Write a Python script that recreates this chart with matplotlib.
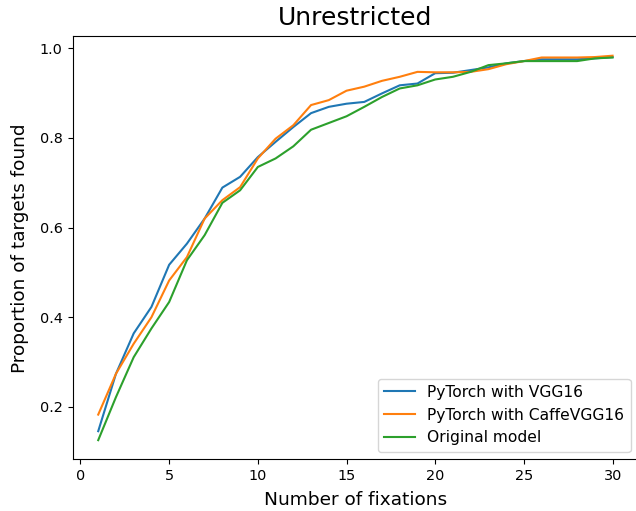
import matplotlib
matplotlib.use('Agg')
import matplotlib.pyplot as plt

fixations = list(range(1, 31))
vgg16 = [0.146, 0.274, 0.364, 0.423, 0.517, 0.564, 0.620, 0.689, 0.713, 0.757,
         0.791, 0.824, 0.855, 0.869, 0.876, 0.880, 0.899, 0.917, 0.921, 0.944,
         0.945, 0.951, 0.957, 0.966, 0.971, 0.975, 0.975, 0.975, 0.977, 0.980]
caffe_vgg16 = [0.183, 0.274, 0.341, 0.400, 0.482, 0.534, 0.620, 0.661, 0.690, 0.754,
               0.798, 0.828, 0.873, 0.884, 0.905, 0.914, 0.927, 0.936, 0.947, 0.946,
               0.946, 0.947, 0.953, 0.964, 0.971, 0.979, 0.979, 0.979, 0.980, 0.983]
original = [0.126, 0.222, 0.311, 0.375, 0.434, 0.527, 0.583, 0.655, 0.683, 0.735,
            0.754, 0.781, 0.818, 0.833, 0.848, 0.869, 0.891, 0.910, 0.917, 0.930,
            0.936, 0.947, 0.962, 0.966, 0.971, 0.971, 0.971, 0.971, 0.977, 0.979]

fig = plt.figure(figsize=(6.36, 5.11), dpi=100)
ax = fig.add_axes([0.114, 0.101, 0.8896, 0.8276])
ax.plot(fixations, vgg16, label='PyTorch with VGG16')
ax.plot(fixations, caffe_vgg16, label='PyTorch with CaffeVGG16')
ax.plot(fixations, original, label='Original model')
ax.set_title('Unrestricted', fontsize=18, pad=8)
ax.set_xlabel('Number of fixations', fontsize=13.3, labelpad=5.5)
ax.set_ylabel('Proportion of targets found', fontsize=13.3, labelpad=8)
ax.tick_params(labelsize=10.4)
ax.spines['right'].set_visible(False)
ax.legend(loc='lower right', fontsize=11.2)
fig.savefig('out.png', dpi=100)
